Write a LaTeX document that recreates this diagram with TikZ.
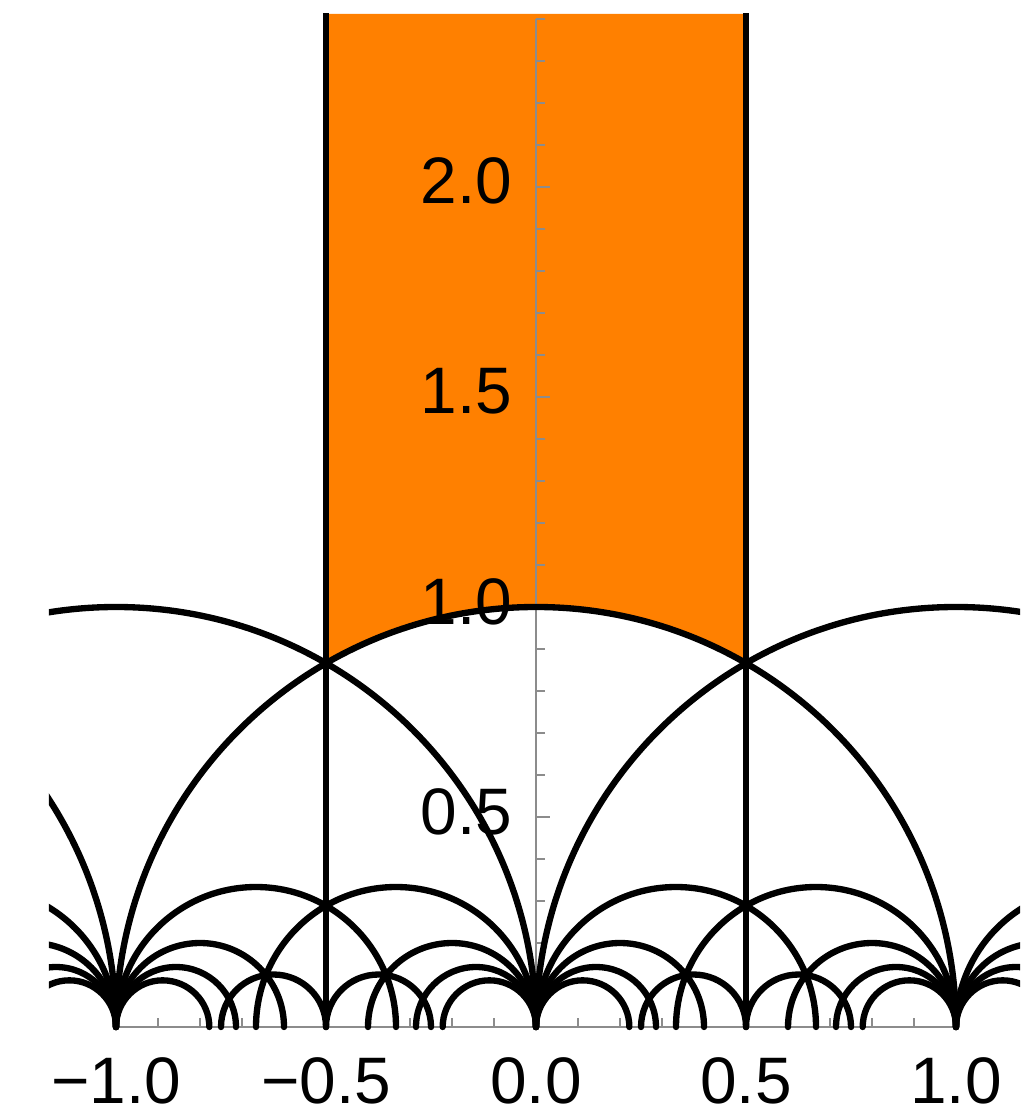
\documentclass[tikz,border=0pt]{standalone}
\usepackage{fontspec}
\setmainfont{Liberation Sans}
\usepackage{tikz}
\usetikzlibrary{calc}
\definecolor{domainorange}{HTML}{FF8000}
\definecolor{axisgray}{HTML}{8C8C8C}
\tikzset{
  geodesic/.style={black, line width=1.8pt, line cap=round},
  axisline/.style={axisgray, line width=0.35pt},
  ticklabel/.style={inner sep=0pt, text depth=0pt, font=\fontsize{18.7}{22}\selectfont}
}
\begin{document}
\begin{tikzpicture}[x=4.2cm,y=4.2cm]
  \useasboundingbox (-1.2762,-0.1976) rectangle (1.1524,2.4452);
  \fill[domainorange] (-0.5,2.412) -- (-0.5,{sqrt(3)/2}) arc[start angle=120,end angle=60,radius=1] -- (0.5,2.412) -- cycle;
  \draw[axisline] (-1,0) -- (1,0);
  \draw[axisline] (0,0) -- (0,2.4);
  \foreach \i in {-10,...,10}{
    \draw[axisline] ({\i/10},0) -- ++(0,0.021);
  }
  \foreach \i in {1,...,24}{
    \draw[axisline] (0,{\i/10}) -- ++(0.021,0);
  }
  \foreach \xx in {-1,-0.5,0,0.5,1}{
    \draw[axisline] (\xx,0) -- ++(0,0.034);
  }
  \foreach \yy in {0.5,1,1.5,2}{
    \draw[axisline] (0,\yy) -- ++(0.034,0);
  }
  \begin{scope}
    \clip (-1.16,-0.03) rectangle (1.1524,2.412);
    \foreach \xx in {-0.5,0.5}{
      \draw[geodesic] (\xx,0) -- (\xx,2.5);
    }
    \foreach \cc in {-2,-1,0,1}{
      \draw[geodesic] ({\cc+1},0) arc[start angle=0,end angle=180,radius=1];
    }
    \foreach \cc in {-1,0,1}{
      \foreach \qq in {3,5,7,9}{
        \draw[geodesic] ({\cc+2/\qq},0) arc[start angle=0,end angle=180,radius={1/\qq}];
        \draw[geodesic] (\cc,0) arc[start angle=0,end angle=180,radius={1/\qq}];
      }
    }
    \foreach \cc in {-0.625,-0.375,0.375,0.625}{
      \draw[geodesic] ({\cc+0.125},0) arc[start angle=0,end angle=180,radius=0.125];
    }
  \end{scope}
  \foreach \xx/\lab [count=\n] in {-1/{−1.0},-0.5/{−0.5},0/{0.0},0.5/{0.5},1/{1.0}}{
    \node[ticklabel, anchor=base] (xlab\n) at (\xx,-0.181) {\lab};
  }
  \foreach \yy/\lab [count=\n] in {0.5/{0.5},1/{1.0},1.5/{1.5},2/{2.0}}{
    \node[ticklabel, anchor=base east] (ylab\n) at (-0.0555,{\yy-0.0405}) {\lab};
  }
\end{tikzpicture}
\end{document}
